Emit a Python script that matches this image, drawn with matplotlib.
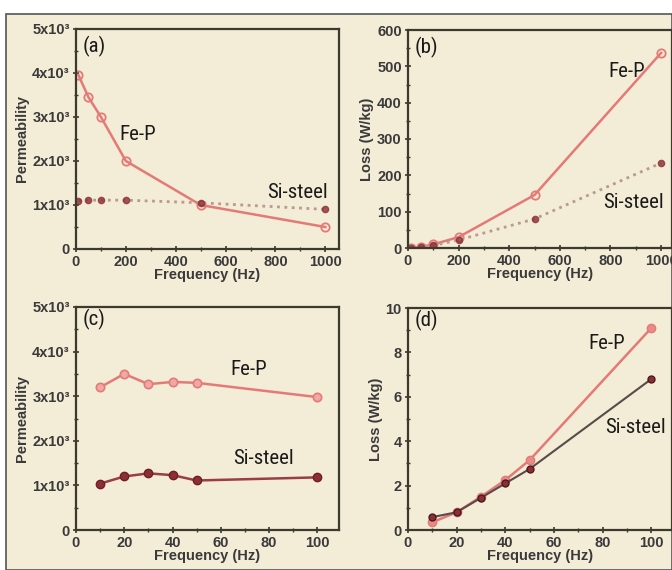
import numpy as np
import matplotlib.pyplot as plt
from matplotlib.patches import Rectangle
from matplotlib.ticker import FuncFormatter, MultipleLocator

# high frequency range (a, b)
f_hi = [10, 50, 100, 200, 500, 1000]
perm_fep_hi = [3950, 3450, 3000, 2000, 1000, 500]
perm_si_hi = [1100, 1110, 1110, 1110, 1050, 900]
loss_fep_hi = [0.5, 3, 10, 30, 146, 537]
loss_si_hi = [0.3, 2, 7, 22, 80, 234]

# low frequency range (c, d)
f_lo = [10, 20, 30, 40, 50, 100]
perm_fep_lo = [3200, 3500, 3270, 3320, 3300, 2980]
perm_si_lo = [1040, 1200, 1270, 1230, 1110, 1180]
loss_fep_lo = [0.35, 0.8, 1.5, 2.25, 3.15, 9.1]
loss_si_lo = [0.58, 0.8, 1.45, 2.1, 2.75, 6.8]

plt.rcParams['font.family'] = ['Liberation Sans', 'DejaVu Sans']
plt.rcParams['font.weight'] = 'bold'
plt.rcParams['axes.labelweight'] = 'bold'

beige = '#f3ecd6'
spine = '#3b3a2e'
fep_c = '#e47a78'
si_c = '#8c2f35'

fig = plt.figure(figsize=(6.72, 5.70), dpi=100, facecolor='white')
fig.patches.append(Rectangle((6/672, 0), 666/672, 556/570, transform=fig.transFigure,
                             facecolor=beige, edgecolor='#555555', lw=1.2, zorder=-10))

W, H = 672, 570
def make_ax(x0, y0, x1, y1):
    ax = fig.add_axes([x0/W, 1-y1/H, (x1-x0)/W, (y1-y0)/H])
    ax.set_facecolor('none')
    for s in ax.spines.values():
        s.set_color(spine)
        s.set_linewidth(1.6)
    ax.tick_params(direction='inout', length=5, width=1.2, color=spine, labelsize=10.5,
                   labelcolor='#3a3a3a', pad=2)
    ax.tick_params(which='minor', direction='inout', length=3, width=1, color=spine)
    return ax

def sci(v, pos):
    if v == 0:
        return '0'
    return '%dx10\u00b3' % int(round(v/1000))

def style_labels(ax, ylabel):
    ax.set_xlabel('Frequency (Hz)', fontsize=10.5, color='#3a3a3a', labelpad=-1)
    ax.set_ylabel(ylabel, fontsize=10.5, color='#3a3a3a', labelpad=2)

nfont = ['Liberation Sans Narrow', 'Roboto Condensed', 'DejaVu Sans Condensed', 'Liberation Sans']
fs = 15

def note(ax, x, y, s, **kw):
    ax.text(x, y, s, fontsize=fs, family=nfont, fontweight='normal', color='#1a1a1a', **kw)

# (a)
ax = make_ax(76, 29, 339, 249)
ax.plot(f_hi, perm_fep_hi, '-o', color=fep_c, lw=1.8, ms=6, mfc='none', mec=fep_c, mew=1.3)
ax.plot(f_hi, perm_si_hi, ':', color='#b89a90', lw=2)
ax.plot(f_hi, perm_si_hi, 'o', color=si_c, ms=4.5, alpha=0.8)
ax.set_xlim(0, 1055)
ax.set_ylim(0, 5000)
ax.xaxis.set_major_locator(MultipleLocator(200))
ax.xaxis.set_minor_locator(MultipleLocator(100))
ax.yaxis.set_major_locator(MultipleLocator(1000))
ax.yaxis.set_minor_locator(MultipleLocator(500))
ax.yaxis.set_major_formatter(FuncFormatter(sci))
style_labels(ax, 'Permeability')
note(ax, 0.025, 0.97, '(a)', transform=ax.transAxes, ha='left', va='top')
note(ax, 175, 2600, 'Fe-P', ha='left', va='center')
note(ax, 1010, 1290, 'Si-steel', ha='right', va='center')

# (b)
ax = make_ax(408, 30, 672, 248)
ax.plot(f_hi, loss_fep_hi, '-o', color=fep_c, lw=1.8, ms=6, mfc='none', mec=fep_c, mew=1.3)
ax.plot(f_hi, loss_si_hi, ':', color='#b89a90', lw=2)
ax.plot(f_hi, loss_si_hi, 'o', color=si_c, ms=4.5, alpha=0.8)
ax.set_xlim(0, 1043)
ax.set_ylim(0, 600)
ax.xaxis.set_major_locator(MultipleLocator(200))
ax.xaxis.set_minor_locator(MultipleLocator(100))
ax.yaxis.set_major_locator(MultipleLocator(100))
ax.yaxis.set_minor_locator(MultipleLocator(50))
style_labels(ax, 'Loss (W/kg)')
note(ax, 0.025, 0.97, '(b)', transform=ax.transAxes, ha='left', va='top')
note(ax, 790, 485, 'Fe-P', ha='left', va='center')
note(ax, 770, 125, 'Si-steel', ha='left', va='center')

# (c)
ax = make_ax(76, 307, 339, 530)
ax.plot(f_lo, perm_fep_lo, '-o', color=fep_c, lw=1.8, ms=6, mfc='#f0a8a4', mec=fep_c, mew=1.2)
ax.plot(f_lo, perm_si_lo, '-o', color='#9c3c44', lw=1.8, ms=6, mfc=si_c, mec='#6e1e26')
ax.set_xlim(0, 109)
ax.set_ylim(0, 5000)
ax.xaxis.set_major_locator(MultipleLocator(20))
ax.xaxis.set_minor_locator(MultipleLocator(10))
ax.yaxis.set_major_locator(MultipleLocator(1000))
ax.yaxis.set_minor_locator(MultipleLocator(500))
ax.yaxis.set_major_formatter(FuncFormatter(sci))
style_labels(ax, 'Permeability')
note(ax, 0.025, 0.99, '(c)', transform=ax.transAxes, ha='left', va='top')
note(ax, 64, 3600, 'Fe-P', ha='left', va='center')
note(ax, 65, 1600, 'Si-steel', ha='left', va='center')

# (d)
ax = make_ax(408, 308, 672, 530)
ax.plot(f_lo, loss_fep_lo, '-o', color=fep_c, lw=1.8, ms=6, mfc='#e88a88', mec=fep_c)
ax.plot(f_lo, loss_si_lo, '-o', color='#5a4a48', lw=1.5, ms=5, mfc=si_c, mec='#4a1a1e')
ax.set_xlim(0, 108.5)
ax.set_ylim(0, 10)
ax.xaxis.set_major_locator(MultipleLocator(20))
ax.xaxis.set_minor_locator(MultipleLocator(10))
ax.yaxis.set_major_locator(MultipleLocator(2))
ax.yaxis.set_minor_locator(MultipleLocator(1))
style_labels(ax, 'Loss (W/kg)')
note(ax, 0.025, 0.99, '(d)', transform=ax.transAxes, ha='left', va='top')
note(ax, 74, 8.4, 'Fe-P', ha='left', va='center')
note(ax, 106, 4.6, 'Si-steel', ha='right', va='center')

fig.savefig('out.png', dpi=100, facecolor='white')
